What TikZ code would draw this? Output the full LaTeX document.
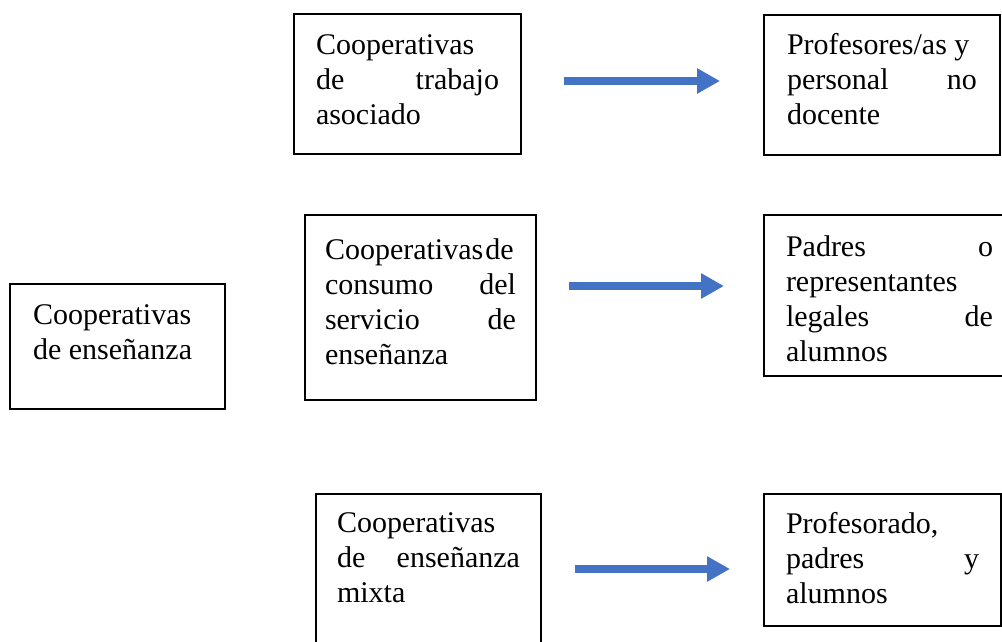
\documentclass[tikz,border=0pt]{standalone}
\usepackage{fontspec}
\setmainfont{Liberation Serif}
\usetikzlibrary{arrows.meta}
\definecolor{arrowblue}{RGB}{68,114,196}

\begin{document}
\begin{tikzpicture}[x=1pt,y=1pt,
		box node/.style={draw,line width=2pt,anchor=north west,inner ysep=0pt,align=justify,font=\fontsize{30}{35}\selectfont},
		link/.style={arrowblue,line width=8pt,-{Triangle[width=24pt,length=23pt]}}]
		
		\useasboundingbox (0,0) rectangle (1002,-641);
		
		\node[box node,inner xsep=23pt,text width=169pt,text height=40pt,text depth=85pt] (ens) at (9,-283) {Cooperativas\\ de enseñanza};
		
		\node[box node,inner xsep=22pt,text width=183pt,text height=40pt,text depth=100pt] (trab) at (293,-13) {Cooperativas\\ de trabajo\linebreak asociado};
		\node[box node,inner xsep=20pt,text width=191pt,text height=44pt,text depth=141pt] (cons) at (304,-214) {Cooperativas\hspace{2pt}de\\ consumo del\linebreak servicio de\linebreak enseñanza};
		\node[box node,inner xsep=21pt,text width=183pt,text height=38pt,text depth=132pt] (mixta) at (315,-493) {Cooperativas\\ de enseñanza\linebreak mixta};
		
		\node[box node,inner xsep=23pt,text width=190pt,text height=39pt,text depth=101pt] (prof) at (763,-14) {Profesores/as y\\ personal no\linebreak docente};
		\node[box node,inner xsep=22pt,text width=207pt,text height=41pt,text depth=120pt] (padres) at (763,-214) {Padres o\linebreak representantes\\ legales de\linebreak alumnos};
		\node[box node,inner xsep=22pt,text width=193pt,text height=39pt,text depth=93pt] (todos) at (763,-493) {Profesorado,\\ padres y\linebreak alumnos};
		
		% arrows between the columns
		\coordinate (s1) at (564,-81);
		\coordinate (e1) at (720,-81);
		\coordinate (s2) at (569,-286);
		\coordinate (e2) at (724,-286);
		\coordinate (s3) at (575,-569);
		\coordinate (e3) at (730,-569);
		\draw[link] (s1) -- (e1);
		\draw[link] (s2) -- (e2);
		\draw[link] (s3) -- (e3);
\end{tikzpicture}
\end{document}
